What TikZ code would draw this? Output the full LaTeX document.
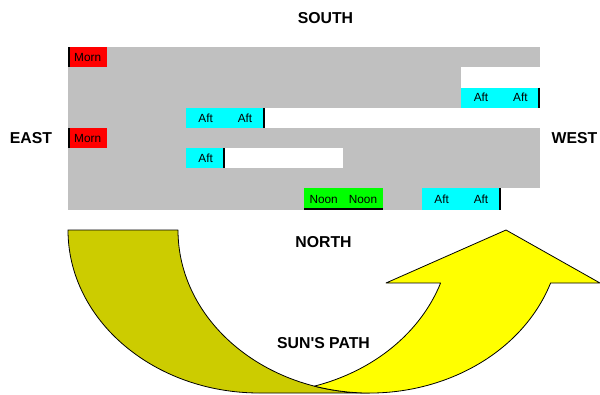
\documentclass[tikz,border=0pt]{standalone}
\usepackage{fontspec}
\setmainfont{Liberation Sans}[Ligatures=TeXOff]
\definecolor{gridgray}{HTML}{C0C0C0}
\definecolor{olivearrow}{HTML}{CCCC00}
\definecolor{yellowarrow}{HTML}{FFFF00}
\definecolor{aftcyan}{HTML}{00FFFF}
\definecolor{morning}{HTML}{FF0000}
\definecolor{noongreen}{HTML}{00FF00}
\newcommand{\cellfont}{\fontsize{11.8}{13}\selectfont}
\newcommand{\labelfont}{\fontsize{15.8}{18}\selectfont\bfseries}
\tikzset{
  cellbox/.style={anchor=north west, inner sep=0pt, outer sep=0pt,
    minimum width=39.33pt, minimum height=#1, font=\cellfont, text=black},
  cellbox/.default=20.4pt,
  blank/.style={fill=white, draw=none},
  markline/.style={draw=black, line width=2pt},
  dirlabel/.style={anchor=base, font=\labelfont, text=black, inner sep=0pt},
  arrowline/.style={draw=black, line width=0.8pt, line join=round}
}
\begin{document}
\begin{tikzpicture}[x=1pt,y=-1pt]
\useasboundingbox (0,0) rectangle (600,394);
% gray grid area
\fill[gridgray] (68,47) rectangle (540,210);
% white gaps
\fill[blank] (461.3,67) rectangle (540,87.5);
\fill[blank] (264.7,108) rectangle (540,128);
\fill[blank] (225.3,148) rectangle (343.3,168);
\fill[blank] (500.7,188) rectangle (540,210);
% coloured cells
\node[cellbox, fill=morning] (morn1) at (68,47) {Morn};
\node[cellbox=20.5pt, fill=aftcyan] (aftA1) at (461.3,87.5) {Aft};
\node[cellbox=20.5pt, fill=aftcyan] (aftA2) at (500.7,87.5) {Aft};
\node[cellbox, fill=aftcyan] (aftB1) at (186,108) {Aft};
\node[cellbox, fill=aftcyan] (aftB2) at (225.3,108) {Aft};
\node[cellbox, fill=morning] (morn2) at (68,128) {Morn};
\node[cellbox, fill=aftcyan] (aftC1) at (186,148) {Aft};
\node[cellbox=22pt, fill=noongreen] (noon1) at (304,188) {Noon};
\node[cellbox=22pt, fill=noongreen] (noon2) at (343.3,188) {Noon};
\node[cellbox=22pt, fill=aftcyan] (aftD1) at (422,188) {Aft};
\node[cellbox=22pt, fill=aftcyan] (aftD2) at (461.3,188) {Aft};
% black marker lines
\draw[markline] ([xshift=1pt]morn1.north west) -- ([xshift=1pt]morn1.south west);
\draw[markline] ([xshift=-1pt]aftA2.north east) -- ([xshift=-1pt]aftA2.south east);
\draw[markline] ([xshift=-1pt]aftB2.north east) -- ([xshift=-1pt]aftB2.south east);
\draw[markline] ([xshift=1pt]morn2.north west) -- ([xshift=1pt]morn2.south west);
\draw[markline] ([xshift=-1pt]aftC1.north east) -- ([xshift=-1pt]aftC1.south east);
\draw[markline] ([yshift=1pt]noon1.south west) -- ([yshift=1pt]noon2.south east);
\draw[markline] ([xshift=-1pt]aftD2.north east) -- ([xshift=-1pt]aftD2.south east);
% direction labels
\node[dirlabel] (south) at (325.5,23.5) {SOUTH};
\node[dirlabel] (east) at (31,143.3) {EAST};
\node[dirlabel] (west) at (574.5,143.3) {WEST};
\node[dirlabel] (north) at (323.5,247) {NORTH};
% sun's path arrow: back (olive) part
\draw[arrowline, fill=olivearrow] (259.5,393)
  arc[start angle=90, end angle=180, x radius=191.5, y radius=163]
  -- (178,230)
  arc[start angle=180, end angle=90, x radius=191.5, y radius=163]
  -- cycle;
% front (yellow) part with arrowhead
\draw[arrowline, fill=yellowarrow] (314.5,386.1)
  arc[start angle=73.31, end angle=18.97, x radius=191.5, y radius=163]
  -- (386,283) -- (506,230) -- (600,283) -- (550.6,283)
  arc[start angle=18.97, end angle=106.69, x radius=191.5, y radius=163]
  -- cycle;
\node[dirlabel] (sunpath) at (323.5,348) {SUN'S PATH};
\end{tikzpicture}
\end{document}
